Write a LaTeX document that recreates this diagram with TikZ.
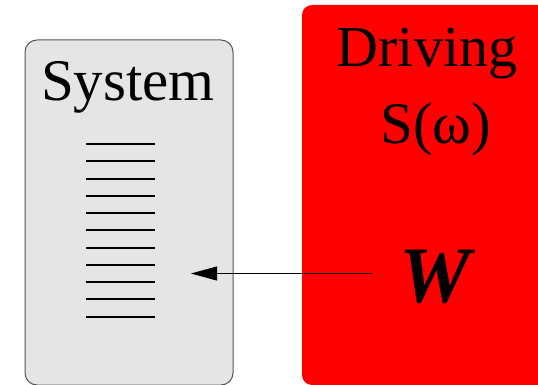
\documentclass[tikz,border=0pt]{standalone}
\usepackage{fontspec}
\setmainfont{Liberation Serif}
\usetikzlibrary{arrows.meta}
\definecolor{panelgray}{HTML}{E5E5E5}
\definecolor{edgegray}{HTML}{555555}
\tikzset{
  panel/.style={rounded corners=12pt, line width=1pt},
  rung/.style={line width=1.8pt, black},
  label/.style={anchor=base, inner sep=0pt, text=black},
  feed/.style={line width=0.8pt, draw=black, -{Triangle[length=26pt,width=14pt]}}
}
\begin{document}
\begin{tikzpicture}[x=1pt,y=-1pt]
  \useasboundingbox (0,0) rectangle (538,385);
  % system panel
  \draw[panel, fill=panelgray, draw=edgegray] (25,40) rectangle (233,385);
  % driving panel (runs past the right edge)
  \fill[panel, red, rounded corners=10pt] (302,5) rectangle (560,385);
  % text
  \node[label, font=\fontsize{59}{59}\selectfont] (sys) at (128,101) {System};
  \node[label, font=\fontsize{58}{58}\selectfont] (drv) at (427,67) {Driving};
  \node[label, font=\fontsize{59}{59}\selectfont] (spec) at (436,144) {S(ω)};
  \node[label, font=\fontsize{80}{80}\selectfont\bfseries\itshape] (w) at (435,302) {W};
  % energy levels
  \foreach \y in {144,161,179,196,213,230,248,265,282,299,317}
    \draw[rung] (86,\y) -- (155,\y);
  % coupling arrow
  \coordinate (src) at (372,273.5);
  \coordinate (dst) at (191,273.5);
  \draw[feed] (src) -- (dst);
\end{tikzpicture}
\end{document}
